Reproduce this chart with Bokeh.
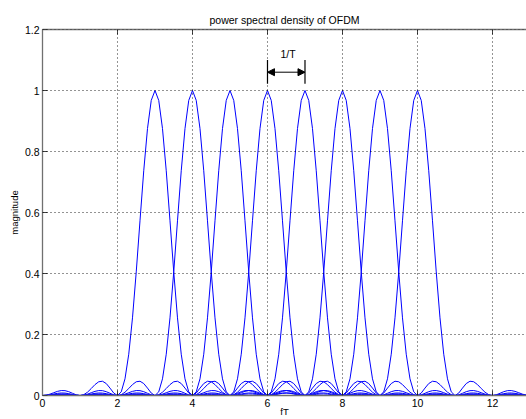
import numpy as np
from bokeh.plotting import figure
from bokeh.models import (LinearAxis, Label, Arrow, NormalHead, Range1d,
                          FixedTicker, Span)
from bokeh.embed import file_html
from bokeh.resources import INLINE

# ---- data ----
subcarrier_centers = [3, 4, 5, 6, 7, 8, 9, 10]   # fT of each subcarrier peak
peak_magnitude = [1, 1, 1, 1, 1, 1, 1, 1]
x_ticks = [0, 2, 4, 6, 8, 10, 12]
y_ticks = [0, 0.2, 0.4, 0.6, 0.8, 1.0, 1.2]
spacing_marker = [6, 7]          # the "1/T" annotation spans one subcarrier spacing

fT = np.linspace(0, 13, 131)

FONT = "Liberation Sans"
p = figure(width=526, height=419, output_backend="svg", toolbar_location=None,
           x_range=Range1d(0, 12.907), y_range=Range1d(0, 1.2),
           min_border_left=42, min_border_right=0, min_border_top=29,
           min_border_bottom=23, x_axis_location=None, y_axis_location=None)
p.outline_line_color = None
p.background_fill_color = "white"
p.border_fill_color = "white"

p.title.text = "power spectral density of OFDM"
p.title.align = "center"
p.title.text_font = FONT
p.title.text_font_size = "10.5px"
p.title.text_font_style = "normal"
p.title.text_color = "black"
p.title.offset = 0
p.title.standoff = 7

for c, a in zip(subcarrier_centers, peak_magnitude):
    p.line(fT, a * np.sinc(fT - c) ** 2, line_color="#0000ff", line_width=1)

def style_axis(ax, labels=True):
    ax.axis_line_color = "#707070"
    ax.axis_line_width = 1.3
    ax.major_tick_line_color = "#404040"
    ax.major_tick_in = 5
    ax.major_tick_out = 0
    ax.minor_tick_line_color = None
    ax.major_label_text_font = FONT
    ax.major_label_text_font_size = "10.5px"
    ax.major_label_text_color = "black"
    ax.major_label_standoff = 3
    ax.axis_label_text_font = FONT
    ax.axis_label_text_font_size = "9.5px"
    ax.axis_label_text_font_style = "normal"
    ax.axis_label_text_color = "black"
    if not labels:
        ax.major_label_text_font_size = "0px"
        ax.major_label_text_alpha = 0

xaxis = LinearAxis()
style_axis(xaxis)
xaxis.ticker = FixedTicker(ticks=x_ticks)
xaxis.axis_label = "fT"
xaxis.axis_label_standoff = -4
p.add_layout(xaxis, "below")

yaxis = LinearAxis()
style_axis(yaxis)
yaxis.ticker = FixedTicker(ticks=y_ticks)
yaxis.major_label_overrides = {0: "0", 1.0: "1"}
yaxis.axis_label = "magnitude"
yaxis.axis_label_standoff = 2
p.add_layout(yaxis, "left")

top = LinearAxis()
style_axis(top, labels=False)
top.ticker = FixedTicker(ticks=x_ticks)
top.major_label_standoff = 0
p.add_layout(top, "above")

for g in p.grid:
    g.visible = False
for xv in x_ticks[1:]:
    p.add_layout(Span(location=xv, dimension="height", line_color="black",
                      line_dash="1 3", line_width=1, line_alpha=0.85))
for yv in y_ticks[1:]:
    p.add_layout(Span(location=yv, dimension="width", line_color="black",
                      line_dash="1 3", line_width=1, line_alpha=0.85))

# 1/T annotation
for xv in spacing_marker:
    p.segment(x0=[xv], y0=[1.022], x1=[xv], y1=[1.10], line_color="black", line_width=1.2)
p.add_layout(Arrow(x_start=spacing_marker[0], y_start=1.06, x_end=spacing_marker[1], y_end=1.06,
                   line_color="black", line_width=1,
                   start=NormalHead(size=7, fill_color="black", line_color="black"),
                   end=NormalHead(size=7, fill_color="black", line_color="black")))
p.add_layout(Label(x=6.55, y=1.12, text="1/T", text_font=FONT, text_font_size="10.5px",
                   text_align="center", text_baseline="middle", text_color="black"))

open("out.html", "w").write(file_html(p, INLINE))
